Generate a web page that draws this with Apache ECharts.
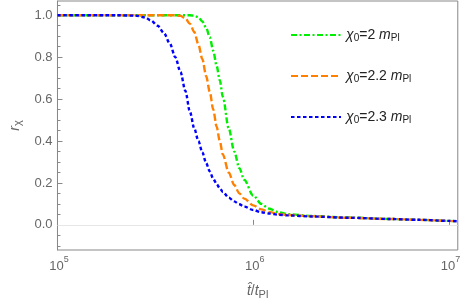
<!DOCTYPE html>
<html>
<head>
<meta charset="utf-8">
<script src="https://cdn.jsdelivr.net/npm/echarts@6/dist/echarts.min.js"></script>
<style>html,body{margin:0;padding:0;background:#fff;}#c{width:463px;height:305px;}</style>
</head>
<body>
<div id="c"></div>
<script>
var tValues = [1e5, 2e5, 2.5e5, 2.8e5, 3e5, 3.25e5, 3.5e5, 3.75e5, 4e5, 4.25e5, 4.5e5, 4.75e5, 5e5, 5.25e5, 5.5e5, 5.75e5, 6e5, 6.25e5, 6.5e5, 6.75e5, 7e5, 7.5e5, 8e5, 8.5e5, 9e5, 1e6, 1.1e6, 1.2e6, 1.35e6, 1.5e6, 2e6, 3e6, 5e6, 7e6, 1e7, 1.11e7];
var rChi2 = [1.0, 1.0, 1.0, 1.0, 1.0, 1.0, 1.0, 1.0, 1.0, 1.0, 1.0, 1.0, 0.998, 0.99, 0.97, 0.94, 0.895, 0.83, 0.76, 0.69, 0.61, 0.46, 0.35, 0.27, 0.215, 0.14, 0.100, 0.078, 0.060, 0.051, 0.042, 0.035, 0.028, 0.024, 0.019, 0.017];
var rChi22 = [1.0, 1.0, 1.0, 1.0, 1.0, 1.0, 1.0, 1.0, 1.0, 0.997, 0.985, 0.96, 0.92, 0.86, 0.79, 0.71, 0.635, 0.55, 0.47, 0.40, 0.335, 0.25, 0.19, 0.15, 0.125, 0.093, 0.074, 0.062, 0.052, 0.047, 0.041, 0.034, 0.028, 0.024, 0.019, 0.017];
var rChi23 = [1.0, 1.0, 0.998, 0.99, 0.975, 0.95, 0.915, 0.865, 0.80, 0.73, 0.64, 0.54, 0.46, 0.40, 0.345, 0.295, 0.255, 0.22, 0.195, 0.175, 0.157, 0.13, 0.112, 0.098, 0.087, 0.071, 0.06, 0.054, 0.048, 0.045, 0.04, 0.034, 0.028, 0.024, 0.019, 0.017];
var seriesNames = ['2', '2.2', '2.3'];
var yMajorTicks = [0, 0.2, 0.4, 0.6, 0.8, 1.0];
var yMinorTicks = [-0.1, -0.05, 0.05, 0.1, 0.15, 0.25, 0.3, 0.35, 0.45, 0.5, 0.55, 0.65, 0.7, 0.75, 0.85, 0.9, 0.95, 1.05];

function pairs(ys) { return tValues.map(function (t, i) { return [t, ys[i]]; }); }

var FONT = 'Liberation Sans';
var AX = '#888';
var LBL = '#666';

var chart = echarts.init(document.getElementById('c'), null, {renderer: 'canvas'});
var supRich = {
  base: {fontFamily: FONT, fontSize: 13, color: LBL, padding: [5, 0, 0, 3]},
  sup: {fontFamily: FONT, fontSize: 9, color: LBL, verticalAlign: 'top', padding: [0, 0, 6, 0]}
};
var legRich = {
  it: {fontFamily: FONT, fontStyle: 'italic', fontSize: 14, color: '#222'},
  sub: {fontFamily: FONT, fontSize: 10, color: '#222', padding: [6, 0, 0, 0]},
  n: {fontFamily: FONT, fontSize: 14, color: '#222'}
};
function lineSeries(name, ys, color, dash) {
  return {
    name: name, type: 'line', data: pairs(ys), showSymbol: false, symbol: 'none',
    smooth: 0.3, smoothMonotone: 'x', silent: true,
    lineStyle: {color: color, width: 2.4, type: dash, cap: 'butt'},
    itemStyle: {color: color}
  };
}
var option = {
  animation: false,
  grid: {left: 51, right: 4, top: 1, bottom: 53, show: true, borderColor: AX, borderWidth: 1},
  legend: {
    orient: 'vertical', left: 285, top: 23, itemWidth: 50, itemHeight: 14, itemGap: 26,
    itemStyle: {opacity: 0, borderWidth: 0},
    data: seriesNames.map(function (s) { return 'χ0=' + s; }),
    formatter: function (n) { return '{it|χ}{sub|0}{n|=' + n.slice(3) + ' }{it|m}{sub|Pl}'; },
    textStyle: {rich: legRich, lineHeight: 14}
  },
  xAxis: {
    type: 'log', logBase: 10, min: 1e5, max: 1.11e7,
    axisLine: {show: true, lineStyle: {color: AX}},
    axisTick: {show: true, inside: true, length: 5, lineStyle: {color: AX}},
    splitLine: {show: false},
    axisLabel: {
      margin: 5, showMaxLabel: false, fontSize: 13, fontFamily: FONT, color: LBL,
      formatter: function (v) { return '{base|10}{sup|' + Math.round(Math.log10(v)) + '}'; },
      rich: supRich
    },
    name: '{it|t̂}{n|/}{it|t}{sub|Pl}',
    nameLocation: 'middle', nameGap: 33,
    nameTextStyle: {rich: {
      it: {fontFamily: FONT, fontStyle: 'italic', fontSize: 14, color: LBL},
      n: {fontFamily: FONT, fontSize: 14, color: LBL},
      sub: {fontFamily: FONT, fontSize: 11, color: LBL, padding: [6, 0, 0, 0]}
    }}
  },
  yAxis: [{
    type: 'value', min: -0.12, max: 1.068,
    axisLine: {show: true, lineStyle: {color: AX}},
    axisTick: {show: true, inside: true, length: 5, customValues: yMajorTicks, lineStyle: {color: AX}},
    splitLine: {show: false},
    axisLabel: {customValues: yMajorTicks, margin: 5, color: LBL, fontFamily: FONT, fontSize: 13,
      formatter: function (v) { return v.toFixed(1); }},
    name: '{it|r}{sub|χ}', nameLocation: 'middle', nameGap: 33,
    nameTextStyle: {rich: {
      it: {fontFamily: FONT, fontStyle: 'italic', fontSize: 14, color: LBL},
      sub: {fontFamily: FONT, fontSize: 11, color: LBL, padding: [6, 0, 0, 0]}
    }}
  }, {
    type: 'value', min: -0.12, max: 1.068, position: 'left',
    axisLine: {show: false},
    axisTick: {show: true, inside: true, length: 3, customValues: yMinorTicks, lineStyle: {color: AX}},
    axisLabel: {show: false}, splitLine: {show: false}
  }],
  series: [
    Object.assign(lineSeries('χ0=2', rChi2, '#00ee00', [6, 2.5, 2, 2.5]), {
      markLine: {silent: true, symbol: 'none', label: {show: false},
        lineStyle: {color: '#e6e6e6', width: 1, type: 'solid'}, data: [{yAxis: 0}]}
    }),
    lineSeries('χ0=2.2', rChi22, '#ff8000', [7, 3]),
    lineSeries('χ0=2.3', rChi23, '#0000ff', [3.5, 2.5])
  ]
};
chart.setOption(option);
</script>
</body>
</html>
